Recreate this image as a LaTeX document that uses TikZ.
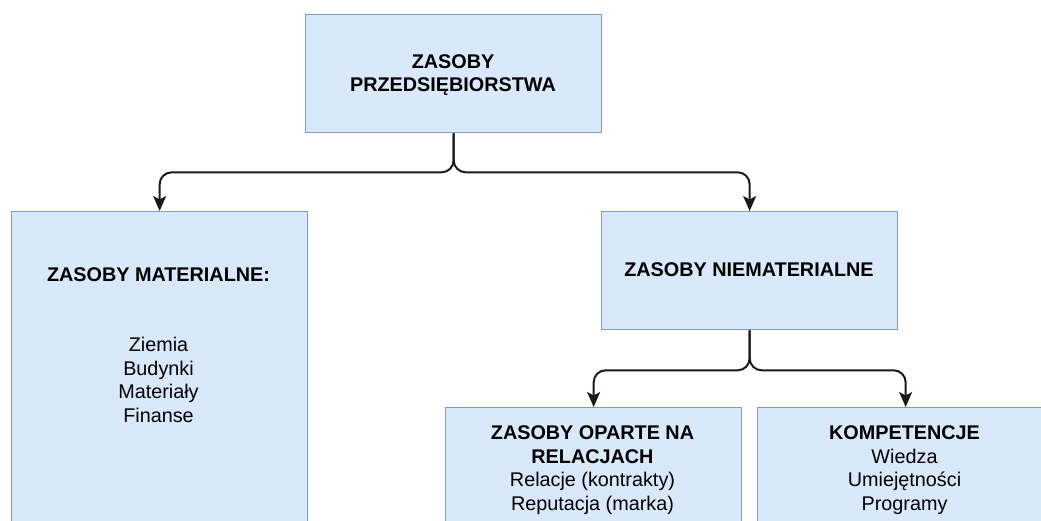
\documentclass[tikz,border=0pt]{standalone}
\usepackage{fontspec}
\setmainfont{Liberation Sans}
\usetikzlibrary{arrows.meta}
\definecolor{boxfill}{HTML}{DAE8FC}
\definecolor{boxline}{HTML}{7A9BCB}
\definecolor{linkink}{HTML}{1A1A1A}
\begin{document}
\begin{tikzpicture}[x=1pt,y=-1pt,
  resbox/.style={draw=boxline, fill=boxfill, line width=1.3pt,
    minimum width=296pt, inner sep=0pt, anchor=north west},
  boxtext/.style={align=center, inner sep=0pt,
    font=\fontsize{19.8}{23.5}\selectfont},
  link/.style={line width=2pt, draw=linkink, rounded corners=12pt,
    -{Stealth[length=15pt,width=13pt,inset=3.5pt]}}]
\useasboundingbox (0,0) rectangle (1041,521);
\clip (0,0) rectangle (1041,521);

% boxes
\node[resbox, minimum height=118pt] (root) at (305,14) {};
\node[resbox, minimum height=345pt] (mat)  at (11,211) {};
\node[resbox, minimum height=118pt] (imm)  at (601,211) {};
\node[resbox, minimum height=150pt] (rel)  at (445,407) {};
\node[resbox, minimum height=150pt] (comp) at (757,407) {};

% box texts
\node[boxtext] (rootT) at (453,75) {\textbf{ZASOBY}\\\textbf{PRZEDSIĘBIORSTWA}};
\node[boxtext] (matT) at (158.5,275) {\textbf{ZASOBY MATERIALNE:}};
\node[boxtext] (matL) at (158.5,380) {Ziemia\\Budynki\\Materiały\\Finanse};
\node[boxtext] (immT) at (749,270) {\textbf{ZASOBY NIEMATERIALNE}};
\node[boxtext] (relT) at (592.5,470) {\textbf{ZASOBY OPARTE NA}\\\textbf{RELACJACH}\\Relacje (kontrakty)\\Reputacja (marka)};
\node[boxtext] (compT) at (904.5,470) {\textbf{KOMPETENCJE}\\Wiedza\\Umiejętności\\Programy};

% connectors
\draw[link] (root.south) -- ++(0,39) -| (mat.north);
\draw[link] (root.south) -- ++(0,39) -| (imm.north);
\draw[link] (imm.south) -- ++(0,40) -| (rel.north);
\draw[link] (imm.south) -- ++(0,40) -| (comp.north);
\end{tikzpicture}
\end{document}
